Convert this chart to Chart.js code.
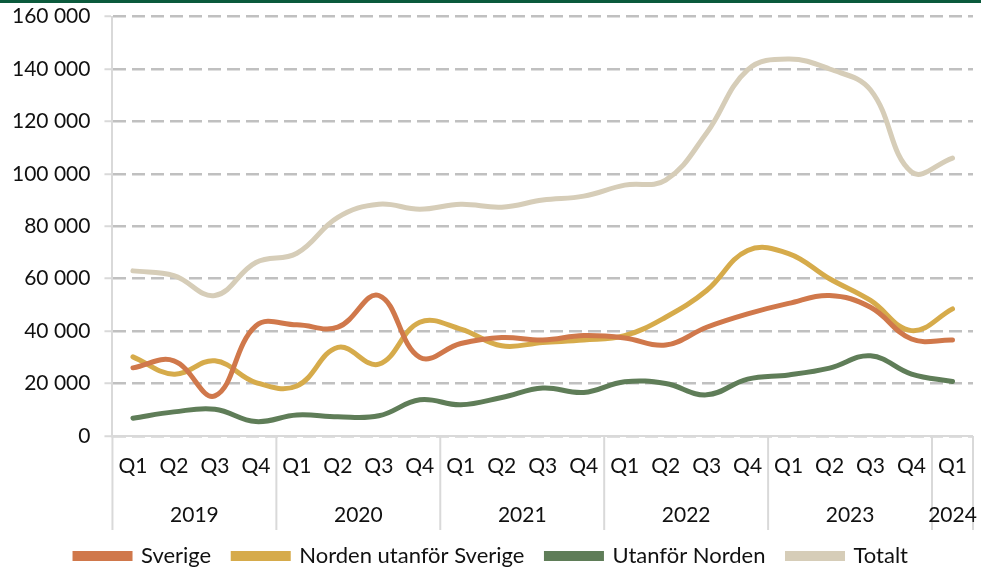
<!DOCTYPE html>
<html>
<head>
<meta charset="utf-8">
<script src="https://cdn.jsdelivr.net/npm/chart.js@4.4.1/dist/chart.umd.min.js"></script>
<style>
  html, body { margin: 0; padding: 0; background: #fff; overflow: hidden; }
  #topBar { position: absolute; left: 0; top: 0; width: 981px; height: 3px; background: #0b5a3c; }
  #chartBox { position: absolute; left: 0; top: -10px; width: 985px; height: 579px; }
</style>
</head>
<body>
<div id="chartBox"><canvas id="chart"></canvas></div>
<div id="topBar"></div>
<script>
const quarters = [
  "Q1", "Q2", "Q3", "Q4",
  "Q1", "Q2", "Q3", "Q4",
  "Q1", "Q2", "Q3", "Q4",
  "Q1", "Q2", "Q3", "Q4",
  "Q1", "Q2", "Q3", "Q4",
  "Q1"
];
const years = ["2019", "2020", "2021", "2022", "2023", "2024"];
const quartersPerYear = [4, 4, 4, 4, 4, 1];

const sverige = [26000, 28700, 15300, 42000, 42400, 41500, 53600, 30000, 35300, 37600, 36600,
  38300, 37400, 34700, 41500, 46600, 50600, 53600, 49100, 37000, 36600];
const nordenUtanforSverige = [30200, 23600, 28700, 20400, 19100, 33800, 27400, 43400, 40800, 34400, 35700,
  36600, 38300, 45300, 55500, 70800, 69600, 60000, 51700, 40200, 48500];
const utanforNorden = [6800, 9200, 10200, 5500, 8000, 7300, 7700, 13800, 11900, 14700, 18300,
  16600, 20700, 20000, 15700, 21700, 23300, 25900, 30600, 23600, 20800];
const totalt = [63000, 61200, 53600, 66200, 69700, 83400, 88400, 86500, 88400, 87300, 90000,
  91500, 95700, 97600, 115600, 139700, 143800, 140000, 132000, 100700, 106000];

const FONT = "Lato, 'Open Sans', sans-serif";
const TEXT = "#111111";
const AXIS = "#d9d9d9";

// year row under the quarter labels, with the separators between years
const yearRow = {
  id: "yearRow",
  afterDraw(chart) {
    const x = chart.scales.x;
    const ctx = chart.ctx;
    const half = (x.getPixelForValue(1) - x.getPixelForValue(0)) / 2;
    ctx.save();
    ctx.strokeStyle = AXIS;
    ctx.lineWidth = 2;
    ctx.fillStyle = TEXT;
    ctx.font = "21px " + FONT;
    ctx.textAlign = "center";
    ctx.textBaseline = "middle";
    let start = 0;
    years.forEach((year, i) => {
      const end = start + quartersPerYear[i] - 1;
      const left = x.getPixelForValue(start) - half;
      const right = x.getPixelForValue(end) + half;
      ctx.beginPath();
      ctx.moveTo(left, x.top);
      ctx.lineTo(left, x.top + 94);
      if (i === years.length - 1) {
        ctx.moveTo(right, x.top);
        ctx.lineTo(right, x.top + 94);
      }
      ctx.stroke();
      ctx.fillText(year, (left + right) / 2, x.top + 79);
      start = end + 1;
    });
    ctx.restore();
  }
};

function line(label, data, color) {
  return {
    label,
    data,
    borderColor: color,
    backgroundColor: color,
    borderWidth: 5,
    borderCapStyle: "round",
    pointRadius: 0,
    tension: 0.4,
    fill: false
  };
}

new Chart(document.getElementById("chart"), {
  type: "line",
  data: {
    labels: quarters,
    datasets: [
      line("Sverige", sverige, "#d0784b"),
      line("Norden utanför Sverige", nordenUtanforSverige, "#d6ab4b"),
      line("Utanför Norden", utanforNorden, "#5f7d58"),
      line("Totalt", totalt, "#d6cdb8")
    ]
  },
  options: {
    responsive: true,
    maintainAspectRatio: false,
    animation: false,
    layout: { padding: { left: -2, right: 0, top: 0, bottom: -8 } },
    plugins: {
      tooltip: { enabled: false },
      legend: {
        position: "bottom",
        labels: {
          color: TEXT,
          font: { family: FONT, size: 22 },
          boxWidth: 55,
          boxHeight: 5,
          padding: 22
        }
      }
    },
    scales: {
      x: {
        offset: true,
        grid: { display: false, drawTicks: false },
        border: { display: true, color: AXIS, width: 2 },
        ticks: {
          color: TEXT,
          font: { family: FONT, size: 21 },
          padding: 18,
          maxRotation: 0,
          autoSkip: false
        },
        afterFit(scale) { scale.height = 87; }
      },
      y: {
        min: 0,
        max: 160000,
        ticks: {
          stepSize: 20000,
          color: TEXT,
          font: { family: FONT, size: 21 },
          padding: 14,
          callback: (v) => String(v).replace(/\B(?=(\d{3})+(?!\d))/g, " ")
        },
        grid: {
          color: "#c0c0c0",
          lineWidth: 2.5,
          tickLength: 8,
          tickColor: AXIS,
          tickWidth: 2
        },
        border: { display: true, color: AXIS, width: 2, dash: [13, 6] }
      }
    }
  },
  plugins: [yearRow]
});
</script>
</body>
</html>
